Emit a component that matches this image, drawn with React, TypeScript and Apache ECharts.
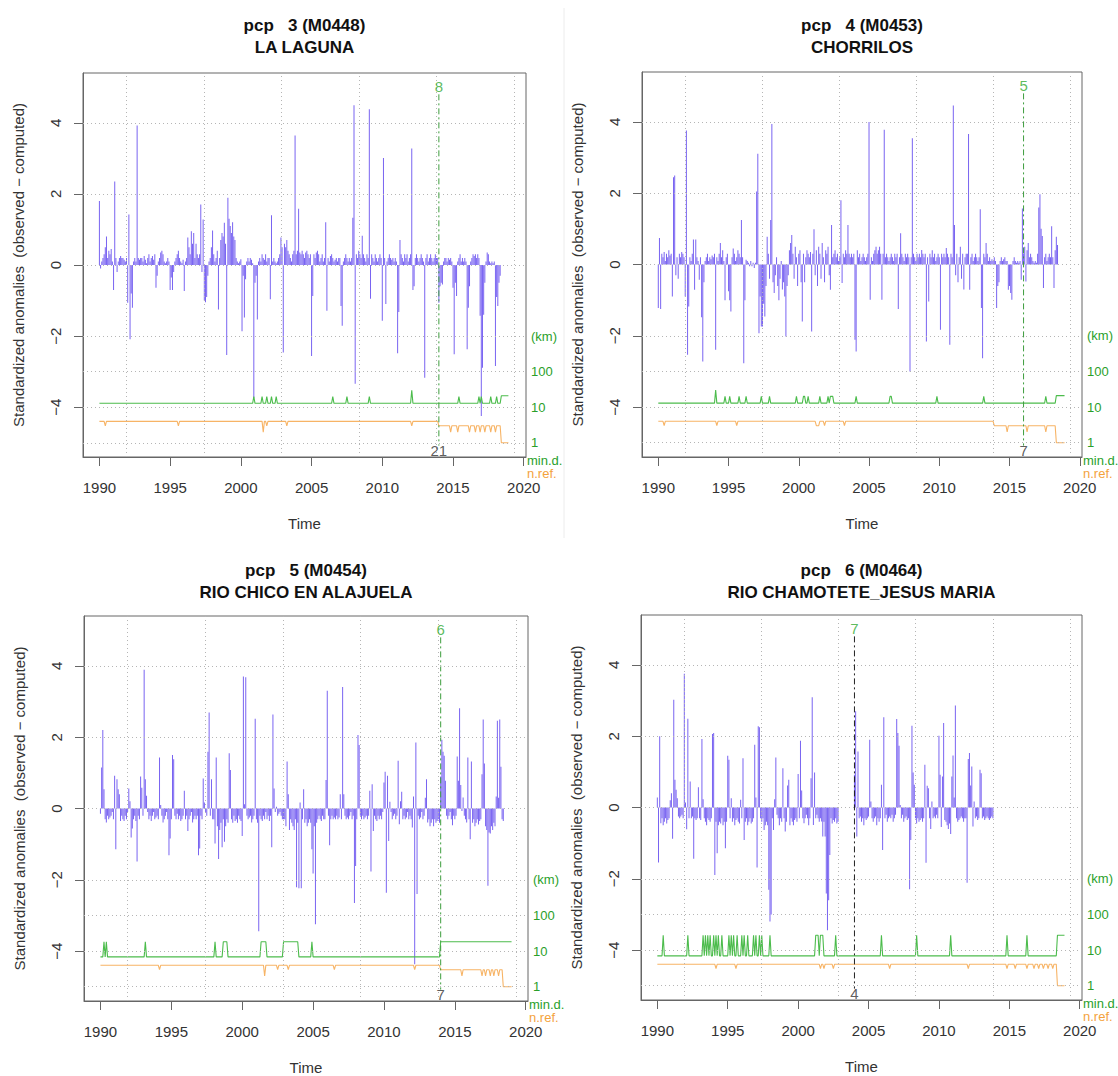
import React, { useEffect, useRef } from "react";
import * as echarts from "echarts";

// ---------- data ----------
const titles1 = ["pcp\u00a0\u00a0 3 (M0448)", "pcp\u00a0\u00a0 4 (M0453)", "pcp\u00a0\u00a0 5 (M0454)", "pcp\u00a0\u00a0 6 (M0464)"];
const titles2 = ["LA LAGUNA", "CHORRILOS", "RIO CHICO EN ALAJUELA", "RIO CHAMOTETE_JESUS MARIA"];

const xTicks = [1990, 1995, 2000, 2005, 2010, 2015, 2020];
const yTicks = [-4, -2, 0, 2, 4];
const gridYears = [1991.9, 1997.4, 2002.87, 2008.34, 2013.85, 2019.32];
const gridLevels = [-5, -4, -3, -2, 0, 2, 4];
const kmTickValues = [-5, -4, -3, -2];
const kmTickLabels = ["1", "10", "100", "(km)"];

// monthly standardized anomalies, one row per year starting 1990
const anomLaLaguna = [
  [1.8, -0.1, 0.1, 0.2, 0.3, 0.5, 0.8, 0.2, 0.4, 0.3, 0.45, 0.1],
  [-0.7, 2.35, 0.2, -0.2, 0.1, 0.2, 0.25, 0.2, 0.2, 0.15, 0.1, 0.2],
  [-1.06, 1.42, -2.09, -0.8, -1.2, 0.1, 0.2, 0.1, 3.92, 0.2, 0.15, 0.2],
  [0.2, 0.1, 0.25, 0.15, 0.05, 0.2, 0.3, 0.1, 0.2, 0.25, 0.15, 0.3],
  [-0.64, -0.3, 0.1, 0.2, 0.35, 0.4, 0.3, 0.1, 0.05, 0.1, 0.2, 0.1],
  [-0.7, -0.35, -0.7, -0.2, 0.1, 0.2, 0.3, 0.4, 0.2, 0.1, 0.05, 0.15],
  [-0.73, 0.1, 0.2, 0.77, 0.5, 0.3, 0.95, 0.6, 0.9, 0.2, 0.6, 0.3],
  [0.2, 0.3, 1.7, -0.2, 1.28, -1.0, -1.05, -0.9, -0.3, 0.1, 0.2, 0.5],
  [0.97, 0.3, 0.1, 0.2, 0.4, -1.25, 0.2, 0.7, 0.9, 0.8, 1.19, 0.6],
  [-2.53, 1.89, 1.3, 1.1, 0.9, 1.2, 0.8, 0.7, 0.2, 0.1, 0.05, 0.1],
  [0.16, -1.86, -0.3, -1.48, -0.4, 0.1, 0.2, 0.1, 0.2, 0.15, 0.05, -3.75],
  [-0.5, -0.3, -1.53, 0.1, 0.2, 0.1, 0.3, 0.2, 0.15, 0.3, 0.1, 0.2],
  [0.2, -0.96, 1.4, 0.1, 0.2, 0.1, 0.05, 0.1, 0.2, 0.3, 0.77, 0.5],
  [-2.46, 0.6, 0.5, 0.7, 0.4, 0.3, 0.2, 0.1, 0.3, 0.4, 3.64, 0.3],
  [0.4, 1.58, 0.35, 0.3, 0.4, 0.3, 0.2, 0.35, 0.4, 0.3, 0.2, 0.3],
  [-2.56, -0.87, 0.3, 0.2, 0.35, 0.4, 0.3, 0.1, 0.2, 0.3, 0.1, 0.2],
  [1.2, -1.29, 0.2, 0.1, 0.25, 0.3, 0.2, 0.1, 0.15, 0.2, 0.1, 0.2],
  [0.2, -1.15, -1.71, 0.1, 0.2, 0.3, 0.2, 0.1, 0.2, 0.1, 0.2, 1.33],
  [4.49, -3.34, 0.3, 0.2, 0.4, 0.3, 0.2, 0.82, 0.3, 0.2, 0.1, 0.3],
  [0.2, 4.38, -0.95, 0.3, 0.2, 0.1, 0.3, 0.2, 0.1, 0.2, 0.3, 0.2],
  [-1.57, 3.01, 0.2, -1.1, 0.1, 0.2, 0.3, 0.2, 0.15, 0.2, 0.1, 0.2],
  [0.1, -2.48, -1.32, 0.7, 0.3, 0.2, 0.1, 0.3, 0.2, 0.3, 0.1, 0.2],
  [0.3, 3.28, -0.7, -0.6, 0.2, 0.3, 0.2, 0.1, 0.2, 0.3, 0.2, 0.1],
  [-3.17, 0.2, 0.3, 0.1, 0.2, 0.3, 0.2, 0.1, 0.2, 0.3, 0.2, 0.2],
  [-1.06, -0.6, -0.5, -0.55, 0.1, 0.2, 0.2, 0.1, 0.2, 0.15, 0.2, 0.1],
  [-0.64, -2.51, -0.5, -0.87, 0.1, 0.2, 0.3, 0.1, 0.2, 0.1, 0.2, 0.1],
  [-2.37, -1.2, -0.6, 0.1, 0.2, 0.3, 0.25, 0.3, 0.2, 0.3, 0.2, -1.43],
  [-4.25, -2.89, -1.4, -0.5, 0.1, 0.35, 0.3, 0.1, 0.05, 0.1, 0.05, 0.1],
  [-2.84, -0.9, -1.15, -0.5, -0.3],
];

const anomChorrilos = [
  [-1.22, 0.74, -1.25, 0.3, 0.2, 0.35, 0.1, 0.3, 0.2, 0.4, 0.25, 0.3],
  [-0.9, 2.45, 2.5, -0.3, 0.2, -0.4, 0.3, 0.2, 0.35, 0.3, 0.2, -0.9],
  [3.76, -2.53, -1.18, 0.2, 0.1, 0.3, 0.7, -0.71, 0.7, 0.2, 0.1, -0.43],
  [0.2, -1.48, -2.72, -0.5, 0.1, 0.2, 0.3, 0.1, 0.2, 0.15, 0.25, 0.2],
  [0.3, -2.39, 0.2, 0.1, 0.3, 0.6, 0.2, 0.4, 0.1, -1.0, 0.2, 0.3],
  [-0.75, -1.0, -1.32, 0.2, 0.45, 0.3, 0.1, 0.2, 0.4, 0.3, 0.2, 1.25],
  [0.2, -2.77, -1.0, 0.13, 0.1, 0.05, -0.05, 0.1, -0.05, 0.05, -0.1, 0.05],
  [2.05, 3.11, -1.93, -0.9, -1.74, -1.74, -1.1, -1.46, -0.6, 0.78, 0.3, -0.4],
  [1.25, 3.94, -0.5, -0.8, -0.3, 0.2, -0.6, -1.0, -0.4, 0.1, -0.7, -0.5],
  [-0.9, -2.02, -0.6, -0.3, 0.4, 0.6, 0.83, 0.3, -0.4, 0.5, 0.2, -0.6],
  [0.3, 0.4, -0.5, -1.6, 0.3, -0.5, 0.2, 0.4, 0.3, 0.2, 0.35, -1.88],
  [0.3, 0.99, -0.3, 0.4, -0.6, 0.5, 0.3, -0.4, 0.6, 0.2, -0.5, 0.4],
  [0.3, 0.5, -0.3, -0.71, 1.11, 0.2, 0.3, 0.4, 0.2, 0.3, 0.1, 0.2],
  [1.8, -0.52, 0.3, 0.2, 0.4, 0.3, 1.11, 0.3, 0.2, 0.3, 0.2, 0.3],
  [-2.11, -2.44, 0.4, 0.2, 0.3, 0.1, 0.2, 0.3, 0.2, 0.1, 0.2, 0.3],
  [4.0, -0.99, 0.2, 0.1, 0.3, 0.4, 0.5, 0.3, 0.4, 0.5, 0.3, -0.99],
  [0.3, 3.78, 0.2, 0.3, 0.2, 0.1, 0.2, 0.3, 0.2, 0.1, 0.3, 0.2],
  [0.3, -1.25, 0.2, 0.88, 0.3, 0.2, 0.1, 0.3, 0.2, 0.3, 0.2, -3.0],
  [0.2, 3.54, 0.3, 0.2, 0.1, 0.3, 0.2, 0.3, 0.2, 0.41, 0.3, 0.2],
  [0.3, -2.16, 0.2, -1.04, 0.3, 0.2, 0.4, 0.2, 0.3, 0.1, 0.2, 0.3],
  [0.2, -1.83, 0.3, 0.2, 0.3, 0.2, 0.46, 0.3, 0.2, -2.25, 0.3, 0.2],
  [4.46, 1.11, -0.3, 0.3, -0.5, 0.2, 0.5, -0.4, 0.3, -0.7, 0.2, 0.3],
  [0.3, 3.66, -0.71, 0.2, 0.3, 0.1, 0.2, 0.3, 0.2, 0.1, 0.2, 1.55],
  [-1.22, -2.63, 0.3, 0.2, 0.6, 0.3, 0.1, 0.2, 0.1, 0.15, 0.1, 0.2],
  [0.1, -1.22, -0.6, -0.5, 0.1, 0.2, 0.1, 0.15, 0.2, 0.1, 0.1, -0.71],
  [-0.6, -0.8, -0.99, 0.1, 0.2, 0.1, 0.05, 0.1, 0.05, 0.1, -0.43, 1.57],
  [0.3, 0.5, -0.48, 0.4, 0.6, 0.2, 0.3, 0.2, 0.1, 0.05, 0.1, 0.05],
  [0.3, 1.6, 1.97, 1.0, 0.8, -0.66, 0.2, 0.3, 0.1, 0.2, 0.3, 0.2],
  [1.07, 0.2, -0.66, 0.4, 0.78, 0.55],
];

const anomRioChico = [
  [-0.15, 1.15, 2.2, 0.54, -0.3, -0.39, -0.2, -0.3, -0.25, -0.2, -0.1, -0.3],
  [0.92, -1.14, 0.82, 0.54, 0.4, -0.35, -0.2, -0.3, -0.35, -0.2, -0.3, -0.1],
  [0.56, 0.2, -0.81, -0.56, -0.3, -0.2, -0.35, -1.49, -0.2, -0.3, 0.9, 0.58],
  [-0.2, 3.89, 0.82, 0.36, -0.1, -0.3, -0.2, -0.35, -0.2, -0.1, -0.3, -0.25],
  [-0.2, -0.3, 1.43, 0.1, -0.2, -0.39, -0.3, -0.2, -0.1, -0.3, -1.31, -0.84],
  [-0.3, 1.5, 1.38, -0.2, -0.3, -0.15, -0.3, -0.2, -0.35, -0.3, -0.2, 0.5],
  [-0.3, -0.2, -0.63, -0.3, -0.2, -0.1, -0.39, -0.3, -0.2, -0.3, -0.2, -1.31],
  [-1.12, -0.2, -0.3, 0.84, 0.17, -0.1, -0.2, 1.59, 2.69, -0.2, 0.82, -0.3],
  [-0.3, -0.98, 1.43, -0.5, -1.42, -0.6, -0.4, -1.09, -0.3, -0.93, -0.5, -0.3],
  [-0.4, 1.55, 1.08, -0.3, -0.4, -0.2, -0.35, -0.3, -0.4, -0.2, -0.3, -0.35],
  [-0.77, 3.7, 0.12, 3.68, -0.2, -0.3, -0.25, -0.2, -0.39, -0.3, -0.2, 2.52],
  [-0.3, -0.4, -3.44, -0.2, -0.3, -0.35, -0.2, -0.3, -0.1, -0.3, -0.2, -0.35],
  [-0.2, -1.09, 2.64, 0.56, -0.1, 0.05, -0.2, -0.15, -0.1, -0.2, -0.3, -0.3],
  [-0.3, -0.5, 1.32, 0.4, -0.6, -0.3, -0.4, -0.5, -0.6, -0.3, -2.21, -0.4],
  [-2.24, 0.17, -2.24, -0.3, 0.54, -0.4, -0.3, -0.5, -0.4, -0.3, -0.4, -1.14],
  [-1.82, -0.5, -3.25, -0.4, -0.3, -0.2, -0.3, -0.35, -0.2, -0.3, -0.3, 0.8],
  [3.3, -0.2, -1.03, -0.3, -0.2, -0.3, -0.25, -0.3, -0.2, -0.3, -0.25, 0.4],
  [-0.3, 3.41, 0.4, -0.2, -0.3, -0.25, -0.3, -0.2, -0.1, -0.3, -0.2, -2.65],
  [-1.61, -0.3, 2.06, 1.78, -0.2, -0.3, -0.2, -0.3, -0.25, -0.2, -0.3, -0.2],
  [0.5, -1.77, 0.68, -0.63, -0.2, -0.3, -0.35, -0.2, -0.3, -0.2, -0.3, -0.1],
  [0.73, 1.03, -2.36, 0.92, -0.91, 0.19, -0.1, -0.3, -0.2, -0.15, -0.3, -0.2],
  [1.34, -0.44, 0.2, 0.47, -0.3, -0.2, -0.3, -0.25, -0.1, -0.3, -0.2, -0.3],
  [-0.53, 0.34, -4.37, 1.85, -2.4, -0.2, -0.3, -0.25, -0.1, -0.3, -0.2, 0.3],
  [0.82, -0.39, -0.3, -0.5, -0.4, -0.3, -0.5, -0.3, -0.4, -0.35, -0.3, -0.4],
  [0.9, 1.93, 1.59, 1.48, 0.78, -0.2, -0.3, -0.2, -0.1, -0.3, -0.47, -0.2],
  [-0.3, -0.2, 1.46, 0.78, 2.81, 0.66, -0.07, 0.31, -0.2, -0.3, -0.39, 1.43],
  [-0.3, -0.86, 1.32, -0.4, -0.3, -0.5, -0.4, -0.3, -0.45, -0.35, -0.3, 0.96],
  [2.5, 1.26, -0.5, -0.6, -2.17, -0.67, -0.7, -0.5, -0.6, -0.4, -0.5, 0.34],
  [2.46, 0.3, 2.5, 1.17, -0.3, -0.35],
];

const anomChamotete = [
  [0.28, -1.54, 2.0, -0.44, -0.3, -0.5, -0.4, -0.3, -0.45, -0.35, -0.3, 0.2],
  [0.4, -0.88, 3.02, 0.78, 0.5, 0.26, -0.25, -0.3, -0.25, -0.2, -0.3, 3.75],
  [0.14, -0.61, 2.49, -0.3, 0.73, -0.3, -0.25, -1.44, -0.3, -0.35, -0.3, 0.57],
  [-0.3, -0.35, 1.92, 0.23, -0.3, -0.4, -0.5, -0.3, -0.35, -0.4, -0.3, 2.06],
  [2.09, -1.89, -0.4, -1.28, -0.5, -0.4, -0.45, -0.3, -0.5, -0.4, -1.14, -0.4],
  [1.45, 1.34, -0.3, 0.26, -0.4, -0.3, -0.5, -0.35, -0.3, -0.4, -0.45, 0.22],
  [-0.3, 1.38, -0.91, -0.4, -0.3, -0.5, -0.4, -0.3, -0.45, -0.4, -0.3, 1.76],
  [0.28, -1.68, 2.28, 2.25, -0.3, -0.4, -0.3, -0.63, -0.5, -0.4, -0.5, -2.31],
  [-3.2, -3.0, -0.3, -0.63, 0.23, 1.4, -0.2, -0.3, -0.5, -0.3, -0.4, 1.1],
  [-0.3, -0.67, -0.4, 0.62, 0.78, -0.5, -0.3, -0.4, -0.5, -0.35, -0.3, -0.4],
  [0.94, -0.3, 1.87, 0.48, -0.3, -0.44, -0.3, -0.2, -0.3, -0.5, -0.3, 0.82],
  [3.09, -0.49, 0.98, -0.3, -0.2, -0.3, -0.4, -0.3, -0.39, -0.81, -0.4, -0.81],
  [-2.41, -3.44, -2.6, -1.33, -0.3, -0.45, -0.35, -0.4, -0.3, -0.45, -0.4, null],
  [null, null, null, null, null, null, null, null, null, null, null, null],
  [0.92, 2.7, -0.81, 1.57, -0.3, -0.25, -0.4, -0.3, -0.5, -0.3, -0.35, -0.3],
  [-0.25, 1.9, 0.17, -0.3, -0.4, -0.3, -0.25, -0.5, -0.3, -0.4, -0.3, 0.64],
  [-1.19, 2.53, -0.3, -0.2, -0.4, -0.3, -0.25, -0.3, -0.2, -0.4, -0.3, -0.2],
  [2.48, 2.09, 1.73, 0.07, -0.3, -0.2, -0.4, -0.3, -0.25, -0.35, -0.3, -2.29],
  [-0.91, 2.29, 0.98, 0.64, -0.3, -0.45, -0.3, -0.4, -0.35, -0.3, -0.4, -0.3],
  [1.2, -1.55, 0.61, 0.54, -0.3, -0.6, 0.17, -0.3, -0.25, -0.3, -0.2, -0.3],
  [2.01, 0.92, -0.55, 0.87, 2.37, -0.35, -0.4, -0.5, -0.6, -0.45, -0.74, 0.87],
  [1.46, 0.28, 2.86, -0.3, -0.4, -0.35, -0.3, -0.25, -0.3, -0.4, -0.3, -0.3],
  [-2.11, 1.36, 1.53, 0.62, 1.15, -0.53, 0.17, -0.3, -0.25, -0.35, -0.3, 1.06],
  [0.96, -0.3, -0.25, -0.35, -0.3, -0.25, -0.3, -0.35, -0.3, -0.25, -0.3],
];

// minimum distance to nearest reference (km): level steps [from, km], bumps [from, to, km]
const minDistSteps = [
  [[1990, 12.9], [2018.42, 21]],
  [[1990, 12.9], [2018.33, 21]],
  [[1990, 6.9], [2014.0, 18.2]],
  [[1990, 6.9], [2018.42, 26]],
];
const minDistBumps = [
  [[2000.917, 2000.917, 20], [2001.5, 2001.5, 20], [2001.833, 2001.833, 20], [2002.167, 2002.167, 20], [2002.5, 2002.5, 20],
   [2006.5, 2006.5, 20], [2007.5, 2007.5, 20], [2009.083, 2009.083, 20], [2012.083, 2012.083, 30], [2015.417, 2015.417, 20],
   [2016.833, 2016.833, 20], [2017.0, 2017.0, 20], [2017.667, 2017.667, 20], [2018.083, 2018.083, 20]],
  [[1994.083, 1994.083, 30], [1994.75, 1994.75, 20], [1995.083, 1995.083, 20], [1995.75, 1995.75, 20], [1996.25, 1996.25, 20],
   [1997.333, 1997.333, 20], [1997.917, 1997.917, 20], [1999.833, 1999.833, 20], [2000.333, 2000.417, 20], [2000.667, 2000.667, 20],
   [2001.5, 2001.5, 20], [2002.083, 2002.083, 20], [2002.25, 2002.417, 20], [2004.083, 2004.083, 20], [2006.5, 2006.583, 20],
   [2009.833, 2009.833, 20], [2013.167, 2013.167, 20], [2017.583, 2017.583, 20]],
  [[1990.25, 1990.25, 18.2], [1990.417, 1990.417, 18.2], [1993.167, 1993.167, 18.2], [1998.083, 1998.083, 18.2],
   [1998.667, 1998.917, 18.2], [2001.333, 2001.667, 18.2], [2002.917, 2003.917, 18.2], [2004.917, 2004.917, 18.2]],
  [[1990.417, 1990.417, 26], [1992.167, 1992.167, 26], [1993.25, 1993.25, 26], [1993.417, 1993.417, 26], [1993.583, 1993.583, 26],
   [1993.75, 1993.75, 26], [1994.0, 1994.0, 26], [1994.167, 1994.167, 26], [1994.333, 1994.333, 26], [1994.583, 1994.583, 26],
   [1995.083, 1995.083, 26], [1995.25, 1995.25, 26], [1995.417, 1995.417, 26], [1995.667, 1995.667, 26], [1996.0, 1996.0, 26],
   [1996.167, 1996.167, 26], [1996.417, 1996.417, 26], [1996.833, 1996.833, 26], [1997.0, 1997.0, 26], [1997.25, 1997.25, 26],
   [1997.417, 1997.417, 26], [1998.0, 1998.0, 26], [2001.25, 2001.417, 26], [2001.583, 2001.75, 26], [2002.667, 2002.667, 26],
   [2005.917, 2005.917, 26], [2008.417, 2008.417, 26], [2010.833, 2010.833, 26], [2014.833, 2014.833, 26], [2016.25, 2016.25, 26]],
];
const minDistEnd = [2018.92, 2018.92, 2019.0, 2018.92];

// number of reference stations used
const nRefSteps = [
  [[1990, 4], [2014.0, 3], [2018.42, 1]],
  [[1990, 4], [2013.92, 3], [2018.33, 1]],
  [[1990, 4], [2014.0, 3], [2018.42, 1]],
  [[1990, 4], [2018.42, 1]],
];
const nRefDips = [
  [[1990.417, 1990.417, 3], [1995.583, 1995.583, 3], [2001.583, 2001.583, 2], [2001.833, 2001.833, 3], [2003.25, 2003.25, 3],
   [2012.083, 2012.083, 3], [2014.833, 2014.833, 2], [2015.333, 2015.333, 2], [2016.167, 2016.167, 2], [2016.583, 2016.583, 2],
   [2016.917, 2016.917, 2], [2017.25, 2017.25, 2], [2017.667, 2017.667, 2], [2018.0, 2018.0, 2]],
  [[1990.417, 1990.417, 3], [1994.167, 1994.167, 3], [1995.583, 1995.583, 3], [2001.25, 2001.417, 3], [2001.833, 2001.833, 3],
   [2003.25, 2003.25, 3], [2014.833, 2014.833, 2], [2016.25, 2016.25, 2], [2017.583, 2017.583, 2]],
  [[1994.167, 1994.167, 3], [2001.583, 2001.583, 2], [2002.5, 2002.5, 3], [2003.25, 2003.25, 3], [2006.5, 2006.5, 3],
   [2012.167, 2012.167, 3], [2015.5, 2015.5, 2], [2016.917, 2016.917, 2], [2017.167, 2017.167, 2], [2017.5, 2017.5, 2],
   [2017.75, 2017.75, 2], [2018.083, 2018.083, 2]],
  [[1994.167, 1994.167, 3], [1995.583, 1995.583, 3], [2001.583, 2001.583, 3], [2001.833, 2001.833, 3], [2002.5, 2002.5, 3],
   [2006.5, 2006.5, 3], [2012.083, 2012.083, 3], [2014.833, 2014.833, 3], [2015.417, 2015.417, 3], [2016.25, 2016.25, 3],
   [2016.75, 2016.75, 3], [2017.083, 2017.083, 3], [2017.417, 2017.417, 3], [2017.75, 2017.75, 3], [2018.083, 2018.083, 3]],
];

const breakYears = [2014.0, 2016.0, 2014.0, 2004.0];
const breakTopLabels = ["8", "5", "6", "7"];
const breakBottomLabels = ["21", "7", "7", "4"];

// ---------- layout & style ----------
const FONT = "'Liberation Sans', Arial, Helvetica, sans-serif";
const panels = [
  { left: 83, top: 73, width: 443, height: 384, titleY: 25 },
  { left: 642, top: 72, width: 440, height: 385, titleY: 25 },
  { left: 84, top: 616, width: 444, height: 385, titleY: 570 },
  { left: 641, top: 615, width: 441, height: 385, titleY: 570 },
];
const breakColors = ["#3d9d3d", "#3d9d3d", "#3d9d3d", "#222222"];
const X_MIN = 1988.84, X_MAX = 2020.16, Y_MIN = -5.4, Y_MAX = 5.4;
const GREEN_TXT = "#2a9f2a";
const GREEN_LINE = "#4cbc4c";
const ORANGE_TXT = "#f4a23c";
const ORANGE_LINE = "#f7b466";
const BAR_COLOR = "rgba(92,66,238,0.82)";

const anomalies = [anomLaLaguna, anomChorrilos, anomRioChico, anomChamotete];

function monthly(rows: (number | null)[][]) {
  const out: any[] = [];
  let i = 0;
  rows.forEach((row) => row.forEach((v) => {
    out.push([1990 + i / 12, v === null ? "-" : v]);
    i++;
  }));
  return out;
}

function stepped(steps: number[][], bumps: number[][], end: number) {
  const out: number[][] = [];
  const n = Math.round((end - 1990) * 12);
  for (let i = 0; i <= n; i++) {
    const t = 1990 + i / 12;
    let v = steps[0][1];
    for (const s of steps) if (t >= s[0] - 0.02) v = s[1];
    for (const b of bumps) if (t >= b[0] - 0.02 && t <= b[1] + 0.02) v = b[2];
    out.push([t, Math.log10(v) - 5]);
  }
  return out;
}

const fmtNum = (v: number) => (v < 0 ? "\u2212" + Math.abs(v) : String(v));
const fmtYear = (v: number) => String(Math.round(v));

function buildOption() {
  const grid: any[] = [], xAxis: any[] = [], yAxis: any[] = [], series: any[] = [], graphic: any[] = [];
  panels.forEach((p, i) => {
    grid.push({ left: p.left, top: p.top, width: p.width, height: p.height, show: true, borderColor: "#666", borderWidth: 1, backgroundColor: "transparent" });
    xAxis.push({
      gridIndex: i, type: "value", min: X_MIN, max: X_MAX,
      axisLine: { show: true, onZero: false, lineStyle: { color: "#666" } },
      axisTick: { show: true, customValues: xTicks, length: 9, lineStyle: { color: "#666" } },
      axisLabel: { customValues: xTicks, color: "#333", fontSize: 15, margin: 23, fontFamily: FONT, formatter: fmtYear },
      splitLine: { show: false },
      name: "Time", nameLocation: "middle", nameGap: 59,
      nameTextStyle: { color: "#333", fontSize: 15, fontFamily: FONT },
    });
    yAxis.push({
      gridIndex: i, type: "value", min: Y_MIN, max: Y_MAX,
      axisLine: { show: true, onZero: false, lineStyle: { color: "#666" } },
      axisTick: { show: true, customValues: yTicks, length: 9, lineStyle: { color: "#666" } },
      axisLabel: { customValues: yTicks, rotate: 90, color: "#333", fontSize: 15, margin: 20, fontFamily: FONT, formatter: fmtNum },
      splitLine: { show: false },
      name: "Standardized anomalies  (observed \u2212 computed)", nameLocation: "middle", nameGap: 57,
      nameTextStyle: { color: "#333", fontSize: 15, fontFamily: FONT },
    });
    yAxis.push({
      gridIndex: i, type: "value", min: Y_MIN, max: Y_MAX, position: "right",
      axisLine: { show: false }, axisTick: { show: false }, splitLine: { show: false },
      axisLabel: {
        customValues: kmTickValues, color: GREEN_TXT, fontSize: 13, margin: 5, fontFamily: FONT,
        formatter: (v: number) => kmTickLabels[kmTickValues.indexOf(Math.round(v))] ?? "",
      },
    });
    const yi = i * 2;
    series.push({
      type: "line", xAxisIndex: i, yAxisIndex: yi, data: [], silent: true, z: 1,
      markLine: {
        silent: true, symbol: ["none", "none"], label: { show: false }, animation: false,
        lineStyle: { type: [1, 3], color: "#b5b5b5", width: 1 },
        emphasis: { disabled: true },
        data: [...gridYears.map((x) => ({ xAxis: x })), ...gridLevels.map((y) => ({ yAxis: y }))],
      },
    });
    series.push({
      type: "bar", xAxisIndex: i, yAxisIndex: yi, data: monthly(anomalies[i]), barWidth: 1, z: 2,
      itemStyle: { color: BAR_COLOR }, silent: true,
    });
    series.push({
      type: "line", xAxisIndex: i, yAxisIndex: yi, data: stepped(minDistSteps[i], minDistBumps[i], minDistEnd[i]),
      showSymbol: false, lineStyle: { color: GREEN_LINE, width: 1.1 }, z: 3, silent: true,
    });
    series.push({
      type: "line", xAxisIndex: i, yAxisIndex: yi, data: stepped(nRefSteps[i], nRefDips[i], minDistEnd[i]),
      showSymbol: false, lineStyle: { color: ORANGE_LINE, width: 1.1 }, z: 3, silent: true,
    });
    const bx = breakYears[i];
    series.push({
      type: "line", xAxisIndex: i, yAxisIndex: yi, data: [[bx, 4.8], [bx, -5.08]],
      showSymbol: false, lineStyle: { color: breakColors[i], width: 1, type: [6, 3, 2, 3] }, z: 4, silent: true,
    });
    series.push({
      type: "scatter", xAxisIndex: i, yAxisIndex: yi, symbolSize: 1, silent: true, z: 5,
      itemStyle: { color: "rgba(0,0,0,0)" },
      data: [
        { value: [bx, 5.02], label: { show: true, position: "inside", formatter: breakTopLabels[i], color: "#33aa33", fontSize: 15, fontFamily: FONT } },
        { value: [bx, -5.23], label: { show: true, position: "inside", formatter: breakBottomLabels[i], color: "#333", fontSize: 15, fontFamily: FONT } },
      ],
    });
    const cx = p.left + p.width / 2;
    graphic.push({ type: "text", x: cx, y: p.titleY, style: { text: titles1[i], fill: "#111", font: `bold 17px ${FONT}`, align: "center", verticalAlign: "middle" } });
    graphic.push({ type: "text", x: cx, y: p.titleY + 22.5, style: { text: titles2[i], fill: "#111", font: `bold 17px ${FONT}`, align: "center", verticalAlign: "middle" } });
    const rx = p.left + p.width + 1;
    graphic.push({ type: "text", x: rx, y: p.top + p.height + 3, style: { text: "min.d.", fill: GREEN_TXT, font: `13px ${FONT}`, align: "left", verticalAlign: "middle" } });
    graphic.push({ type: "text", x: rx, y: p.top + p.height + 16, style: { text: "n.ref.", fill: ORANGE_TXT, font: `13px ${FONT}`, align: "left", verticalAlign: "middle" } });
  });
  graphic.push({ type: "line", shape: { x1: 564, y1: 8, x2: 564, y2: 538 }, style: { stroke: "#ececec", lineWidth: 1 } });
  return {
    animation: false,
    backgroundColor: "#ffffff",
    textStyle: { fontFamily: FONT },
    grid, xAxis, yAxis, series, graphic,
  };
}

export default function App() {
  const ref = useRef<HTMLDivElement>(null);
  useEffect(() => {
    if (!ref.current) return;
    const chart = echarts.init(ref.current, null, { renderer: "svg" });
    chart.setOption(buildOption() as any);
    return () => chart.dispose();
  }, []);
  return <div ref={ref} style={{ position: "fixed", left: 0, top: 0, width: 1118, height: 1076, background: "#fff" }} />;
}
